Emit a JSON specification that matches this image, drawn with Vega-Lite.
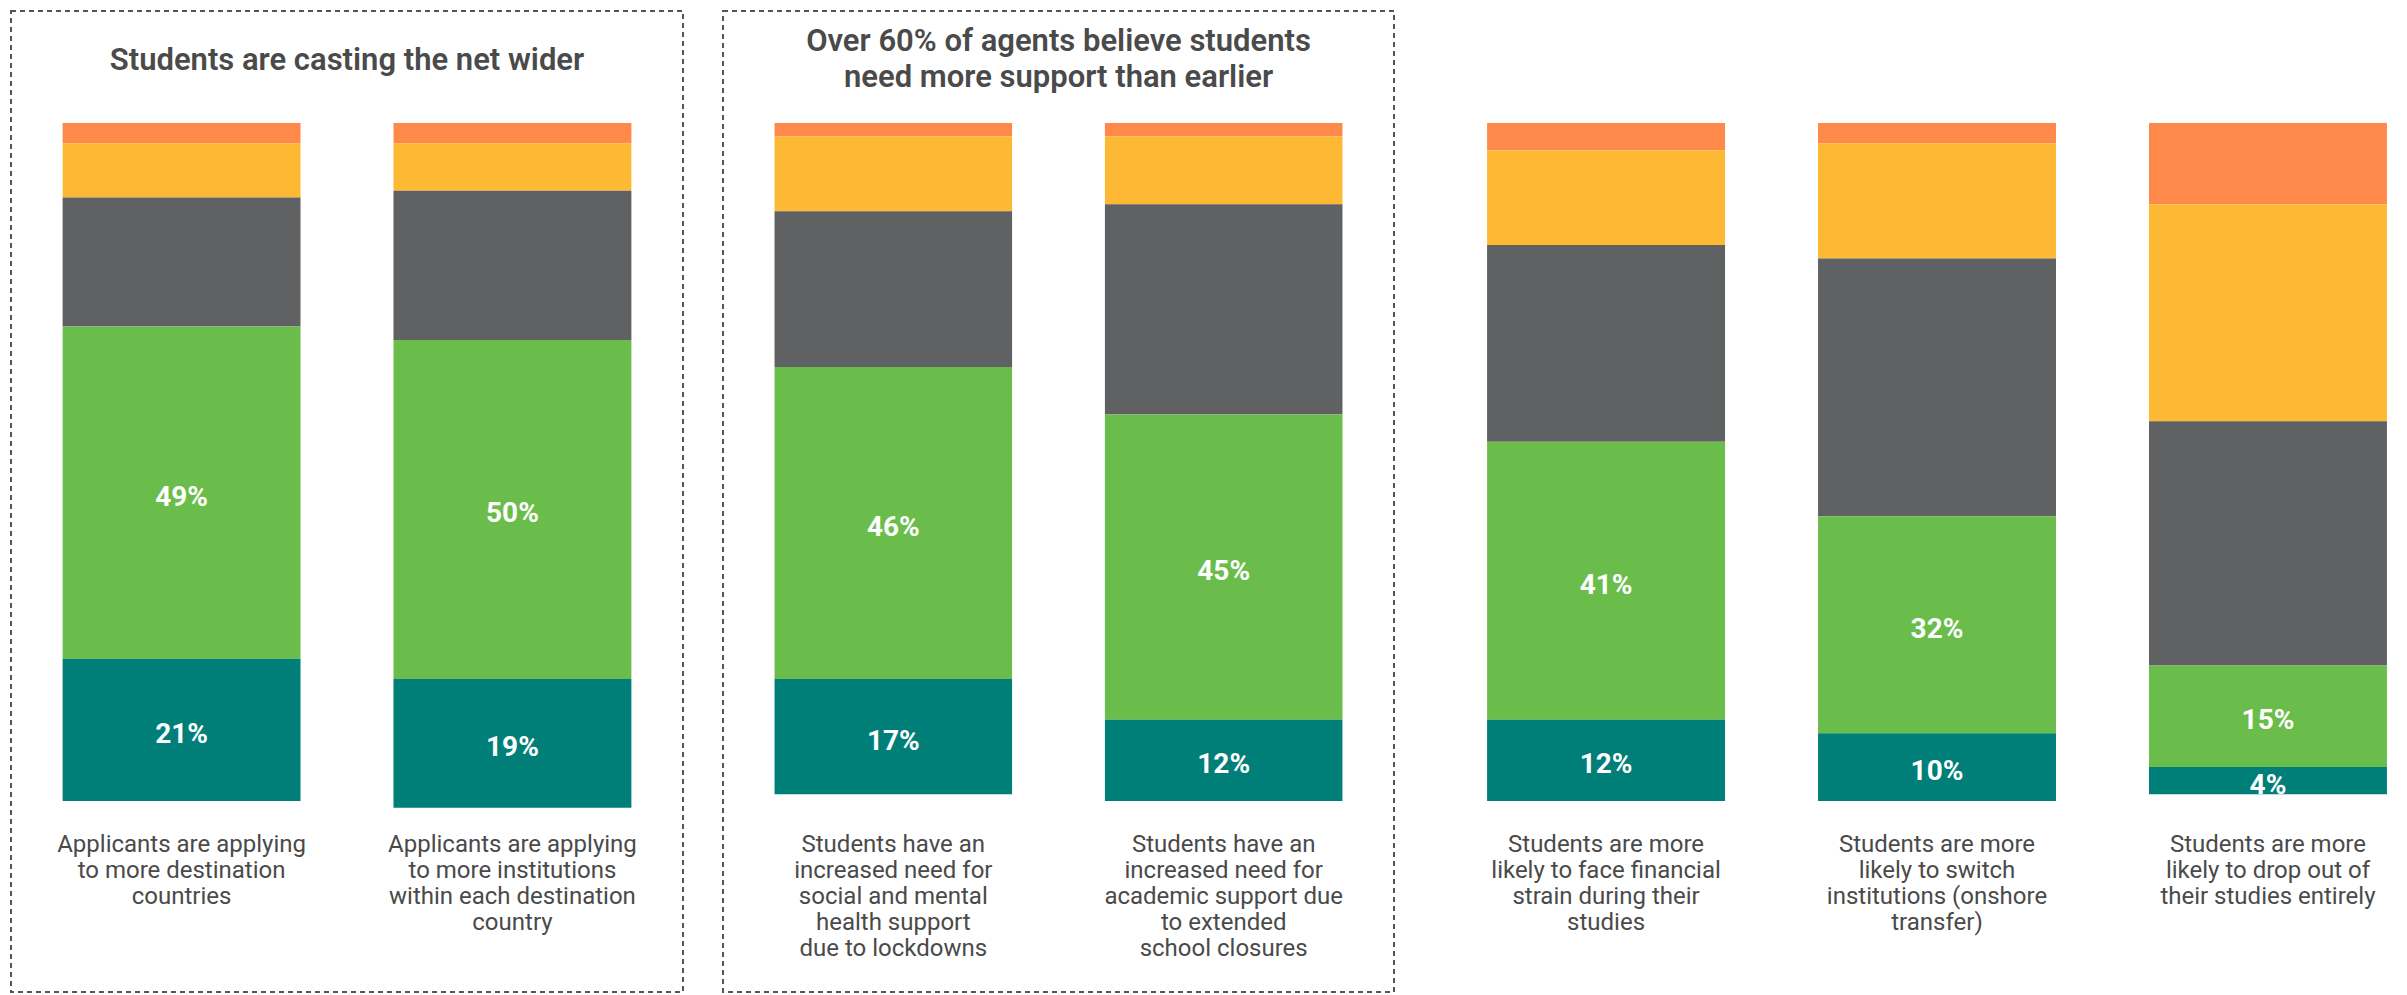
{
  "$schema": "https://vega.github.io/schema/vega-lite/v6.json",
  "padding": {"left": 10, "top": 10, "right": 0, "bottom": 0},
  "background": "white",
  "spacing": 40,
  "bounds": "flush",
  "config": {
    "view": {"stroke": null},
    "font": "Roboto",
    "title": {"font": "Roboto", "fontSize": 31, "fontWeight": 600, "color": "#4a4a4a", "anchor": "middle", "lineHeight": 36}
  },
  "data": {"values": [
    {"group": 1, "item": "Applicants are applying|to more destination|countries", "response": "Strongly disagree", "score": 1, "value": 0.03},
    {"group": 1, "item": "Applicants are applying|to more destination|countries", "response": "Disagree", "score": 2, "value": 0.08},
    {"group": 1, "item": "Applicants are applying|to more destination|countries", "response": "Neutral", "score": 3, "value": 0.19},
    {"group": 1, "item": "Applicants are applying|to more destination|countries", "response": "Agree", "score": 4, "value": 0.49},
    {"group": 1, "item": "Applicants are applying|to more destination|countries", "response": "Strongly agree", "score": 5, "value": 0.21},
    {"group": 1, "item": "Applicants are applying|to more institutions|within each destination|country", "response": "Strongly disagree", "score": 1, "value": 0.03},
    {"group": 1, "item": "Applicants are applying|to more institutions|within each destination|country", "response": "Disagree", "score": 2, "value": 0.07},
    {"group": 1, "item": "Applicants are applying|to more institutions|within each destination|country", "response": "Neutral", "score": 3, "value": 0.22},
    {"group": 1, "item": "Applicants are applying|to more institutions|within each destination|country", "response": "Agree", "score": 4, "value": 0.50},
    {"group": 1, "item": "Applicants are applying|to more institutions|within each destination|country", "response": "Strongly agree", "score": 5, "value": 0.19},
    {"group": 2, "item": "Students have an|increased need for|social and mental|health support|due to lockdowns", "response": "Strongly disagree", "score": 1, "value": 0.02},
    {"group": 2, "item": "Students have an|increased need for|social and mental|health support|due to lockdowns", "response": "Disagree", "score": 2, "value": 0.11},
    {"group": 2, "item": "Students have an|increased need for|social and mental|health support|due to lockdowns", "response": "Neutral", "score": 3, "value": 0.23},
    {"group": 2, "item": "Students have an|increased need for|social and mental|health support|due to lockdowns", "response": "Agree", "score": 4, "value": 0.46},
    {"group": 2, "item": "Students have an|increased need for|social and mental|health support|due to lockdowns", "response": "Strongly agree", "score": 5, "value": 0.17},
    {"group": 2, "item": "Students have an|increased need for|academic support due|to extended|school closures", "response": "Strongly disagree", "score": 1, "value": 0.02},
    {"group": 2, "item": "Students have an|increased need for|academic support due|to extended|school closures", "response": "Disagree", "score": 2, "value": 0.10},
    {"group": 2, "item": "Students have an|increased need for|academic support due|to extended|school closures", "response": "Neutral", "score": 3, "value": 0.31},
    {"group": 2, "item": "Students have an|increased need for|academic support due|to extended|school closures", "response": "Agree", "score": 4, "value": 0.45},
    {"group": 2, "item": "Students have an|increased need for|academic support due|to extended|school closures", "response": "Strongly agree", "score": 5, "value": 0.12},
    {"group": 3, "item": "Students are more|likely to face financial|strain during their|studies", "response": "Strongly disagree", "score": 1, "value": 0.04},
    {"group": 3, "item": "Students are more|likely to face financial|strain during their|studies", "response": "Disagree", "score": 2, "value": 0.14},
    {"group": 3, "item": "Students are more|likely to face financial|strain during their|studies", "response": "Neutral", "score": 3, "value": 0.29},
    {"group": 3, "item": "Students are more|likely to face financial|strain during their|studies", "response": "Agree", "score": 4, "value": 0.41},
    {"group": 3, "item": "Students are more|likely to face financial|strain during their|studies", "response": "Strongly agree", "score": 5, "value": 0.12},
    {"group": 3, "item": "Students are more|likely to switch|institutions (onshore|transfer)", "response": "Strongly disagree", "score": 1, "value": 0.03},
    {"group": 3, "item": "Students are more|likely to switch|institutions (onshore|transfer)", "response": "Disagree", "score": 2, "value": 0.17},
    {"group": 3, "item": "Students are more|likely to switch|institutions (onshore|transfer)", "response": "Neutral", "score": 3, "value": 0.38},
    {"group": 3, "item": "Students are more|likely to switch|institutions (onshore|transfer)", "response": "Agree", "score": 4, "value": 0.32},
    {"group": 3, "item": "Students are more|likely to switch|institutions (onshore|transfer)", "response": "Strongly agree", "score": 5, "value": 0.10},
    {"group": 3, "item": "Students are more|likely to drop out of|their studies entirely", "response": "Strongly disagree", "score": 1, "value": 0.12},
    {"group": 3, "item": "Students are more|likely to drop out of|their studies entirely", "response": "Disagree", "score": 2, "value": 0.32},
    {"group": 3, "item": "Students are more|likely to drop out of|their studies entirely", "response": "Neutral", "score": 3, "value": 0.36},
    {"group": 3, "item": "Students are more|likely to drop out of|their studies entirely", "response": "Agree", "score": 4, "value": 0.15},
    {"group": 3, "item": "Students are more|likely to drop out of|their studies entirely", "response": "Strongly agree", "score": 5, "value": 0.04}
  ]},
  "resolve": {"scale": {"x": "independent"}},
  "hconcat": [
    {
      "title": {"text": "Students are casting the net wider", "offset": -66},
      "width": 672, "height": 981,
      "view": {"stroke": "#555555", "strokeDash": [5, 4], "strokeWidth": 2},
      "transform": [{"filter": "datum.group == 1"}],
      "encoding": {
        "x": {"field": "item", "type": "nominal", "sort": null,
              "scale": {"paddingInner": 0.281, "paddingOuter": 0.156},
              "axis": {"title": null, "orient": "bottom", "offset": -160, "ticks": false, "domain": false, "labelAngle": 0, "labelPadding": 0, "labelExpr": "split(datum.value, '|')", "labelFont": "Roboto", "labelFontSize": 24, "labelColor": "#4a4a4a", "labelLineHeight": 26, "labelOverlap": false, "labelLimit": 0, "labelBaseline": "top"}},
        "y": {"field": "value", "type": "quantitative", "stack": "zero", "scale": {"domain": [-0.1652, 1.2817], "reverse": true, "nice": false, "zero": false}, "axis": null},
        "order": {"field": "score", "type": "quantitative"}
      },
      "layer": [
        {"mark": {"type": "bar"},
         "encoding": {"color": {"field": "response", "type": "nominal", "legend": null,
           "scale": {"domain": ["Strongly disagree", "Disagree", "Neutral", "Agree", "Strongly agree"], "range": ["#FF894A", "#FDB933", "#606163", "#6ABD4A", "#007F79"]}}}},
        {"mark": {"type": "text", "color": "white", "fontWeight": "bold", "fontSize": 28, "font": "Roboto", "baseline": "middle", "dy": 5},
         "encoding": {"y": {"field": "value", "type": "quantitative", "stack": "zero", "bandPosition": 0.5},
           "text": {"condition": {"test": "datum.score >= 4", "field": "value", "format": ".0%"}, "value": ""}}}
      ]
    },
    {
      "title": {"text": ["Over 60% of agents believe students", "need more support than earlier"], "offset": -83},
      "width": 671, "height": 981,
      "view": {"stroke": "#555555", "strokeDash": [5, 4], "strokeWidth": 2},
      "transform": [{"filter": "datum.group == 2"}],
      "encoding": {
        "x": {"field": "item", "type": "nominal", "sort": null,
              "scale": {"paddingInner": 0.281, "paddingOuter": 0.156},
              "axis": {"title": null, "orient": "bottom", "offset": -160, "ticks": false, "domain": false, "labelAngle": 0, "labelPadding": 0, "labelExpr": "split(datum.value, '|')", "labelFont": "Roboto", "labelFontSize": 24, "labelColor": "#4a4a4a", "labelLineHeight": 26, "labelOverlap": false, "labelLimit": 0, "labelBaseline": "top"}},
        "y": {"field": "value", "type": "quantitative", "stack": "zero", "scale": {"domain": [-0.1652, 1.2817], "reverse": true, "nice": false, "zero": false}, "axis": null},
        "order": {"field": "score", "type": "quantitative"}
      },
      "layer": [
        {"mark": {"type": "bar"},
         "encoding": {"color": {"field": "response", "type": "nominal", "legend": null,
           "scale": {"domain": ["Strongly disagree", "Disagree", "Neutral", "Agree", "Strongly agree"], "range": ["#FF894A", "#FDB933", "#606163", "#6ABD4A", "#007F79"]}}}},
        {"mark": {"type": "text", "color": "white", "fontWeight": "bold", "fontSize": 28, "font": "Roboto", "baseline": "middle", "dy": 5},
         "encoding": {"y": {"field": "value", "type": "quantitative", "stack": "zero", "bandPosition": 0.5},
           "text": {"condition": {"test": "datum.score >= 4", "field": "value", "format": ".0%"}, "value": ""}}}
      ]
    },
    {
      "width": 974, "height": 981,
      "transform": [{"filter": "datum.group == 3"}],
      "encoding": {
        "x": {"field": "item", "type": "nominal", "sort": null,
              "scale": {"paddingInner": 0.281, "paddingOuter": 0.112, "align": 0.716},
              "axis": {"title": null, "orient": "bottom", "offset": -160, "ticks": false, "domain": false, "labelAngle": 0, "labelPadding": 0, "labelExpr": "split(datum.value, '|')", "labelFont": "Roboto", "labelFontSize": 24, "labelColor": "#4a4a4a", "labelLineHeight": 26, "labelOverlap": false, "labelLimit": 0, "labelBaseline": "top"}},
        "y": {"field": "value", "type": "quantitative", "stack": "zero", "scale": {"domain": [-0.1652, 1.2817], "reverse": true, "nice": false, "zero": false}, "axis": null},
        "order": {"field": "score", "type": "quantitative"}
      },
      "layer": [
        {"mark": {"type": "bar"},
         "encoding": {"color": {"field": "response", "type": "nominal", "legend": null,
           "scale": {"domain": ["Strongly disagree", "Disagree", "Neutral", "Agree", "Strongly agree"], "range": ["#FF894A", "#FDB933", "#606163", "#6ABD4A", "#007F79"]}}}},
        {"mark": {"type": "text", "color": "white", "fontWeight": "bold", "fontSize": 28, "font": "Roboto", "baseline": "middle", "dy": 5},
         "encoding": {"y": {"field": "value", "type": "quantitative", "stack": "zero", "bandPosition": 0.5},
           "text": {"condition": {"test": "datum.score >= 4", "field": "value", "format": ".0%"}, "value": ""}}}
      ]
    }
  ]
}
